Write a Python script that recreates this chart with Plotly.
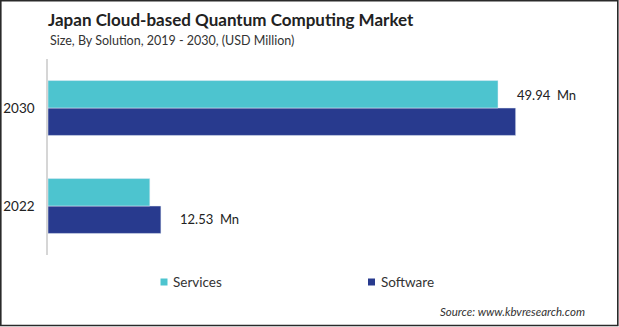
import plotly.graph_objects as go

years = ["2022", "2030"]
services = [11.3, 49.94]
software = [12.53, 51.9]
series_names = ["Services", "Software"]
colors = ["#4DC4CF", "#283A8E"]
labels = [("Services", "2030", 49.94, "49.94  Mn"), ("Software", "2022", 12.53, "12.53  Mn")]

W, H = 619, 327
ml, mr, mt, mb = 48, 19, 59, 72
pw, ph = W - ml - mr, H - mt - mb

def px(x):
    return (x - ml) / pw

def py(y):
    return (H - mb - y) / ph

FONT = "Lato"

fig = go.Figure()
fig.add_trace(go.Bar(y=years, x=software, orientation="h", marker_color=colors[1],
                     name="Software", showlegend=False, hoverinfo="skip"))
fig.add_trace(go.Bar(y=years, x=services, orientation="h", marker_color=colors[0],
                     name="Services", showlegend=False, hoverinfo="skip"))

annotations = []
shapes = []
trace_offset = {"Services": 0.25, "Software": -0.25}
for name, yr, val, txt in labels:
    yi = years.index(yr) + trace_offset[name] * (1 - 0.44) * 0.95
    annotations.append(dict(x=val, y=yi, xref="x", yref="y", text=txt, showarrow=False,
                            xanchor="left", yanchor="middle", xshift=17,
                            font=dict(family=FONT, size=13, color="#222222")))

# legend (manual, to match marker/text spacing)
legend_x = [160.5, 368]
for n, c, lx in zip(series_names, colors, legend_x):
    shapes.append(dict(type="rect", xref="paper", yref="paper",
                       x0=px(lx), x1=px(lx + 7), y0=py(285.5), y1=py(278.5),
                       line=dict(width=0), fillcolor=c))
    annotations.append(dict(x=px(lx + 10.5), y=py(281.5), xref="paper", yref="paper",
                            text=n, showarrow=False, xanchor="left", yanchor="middle",
                            font=dict(family=FONT, size=13.5, color="#333333")))

annotations.append(dict(x=px(48), y=py(40), xref="paper", yref="paper",
                        text="Size, By Solution, 2019 - 2030, (USD Million)", showarrow=False,
                        xanchor="left", yanchor="middle",
                        font=dict(family=FONT, size=12.5, color="#333333")))
annotations.append(dict(x=px(587), y=py(311), xref="paper", yref="paper",
                        text="<i>Source: www.kbvresearch.com</i>", showarrow=False,
                        xanchor="right", yanchor="middle",
                        font=dict(family=FONT, size=11.5, color="#333333")))

shapes.append(dict(type="rect", xref="paper", yref="paper",
                   x0=px(0.8), x1=px(617.8), y0=py(0.8), y1=py(325.5),
                   line=dict(color="#2a2a2a", width=1.6), fillcolor="rgba(0,0,0,0)", layer="above"))

fig.update_layout(
    width=W, height=H,
    margin=dict(l=ml, r=mr, t=mt, b=mb, autoexpand=False),
    paper_bgcolor="white", plot_bgcolor="white",
    barmode="group", bargap=0.44, bargroupgap=0,
    title=dict(text="<b>Japan Cloud-based Quantum Computing Market</b>",
               x=48 / W, xref="container", xanchor="left",
               y=1 - 20 / H, yref="container", yanchor="middle",
               font=dict(family=FONT, size=17, color="#222222")),
    xaxis=dict(range=[0, 61.26], visible=False, fixedrange=True, automargin=False),
    yaxis=dict(type="category", categoryorder="array", categoryarray=years,
               showline=True, linecolor="#d6d6d6", linewidth=1.5, automargin=False,
               ticks="", ticklabelstandoff=9, showgrid=False,
               tickfont=dict(family=FONT, size=13.5, color="#222222")),
    annotations=annotations,
    shapes=shapes,
    showlegend=False,
)

fig.write_html("out.html")
